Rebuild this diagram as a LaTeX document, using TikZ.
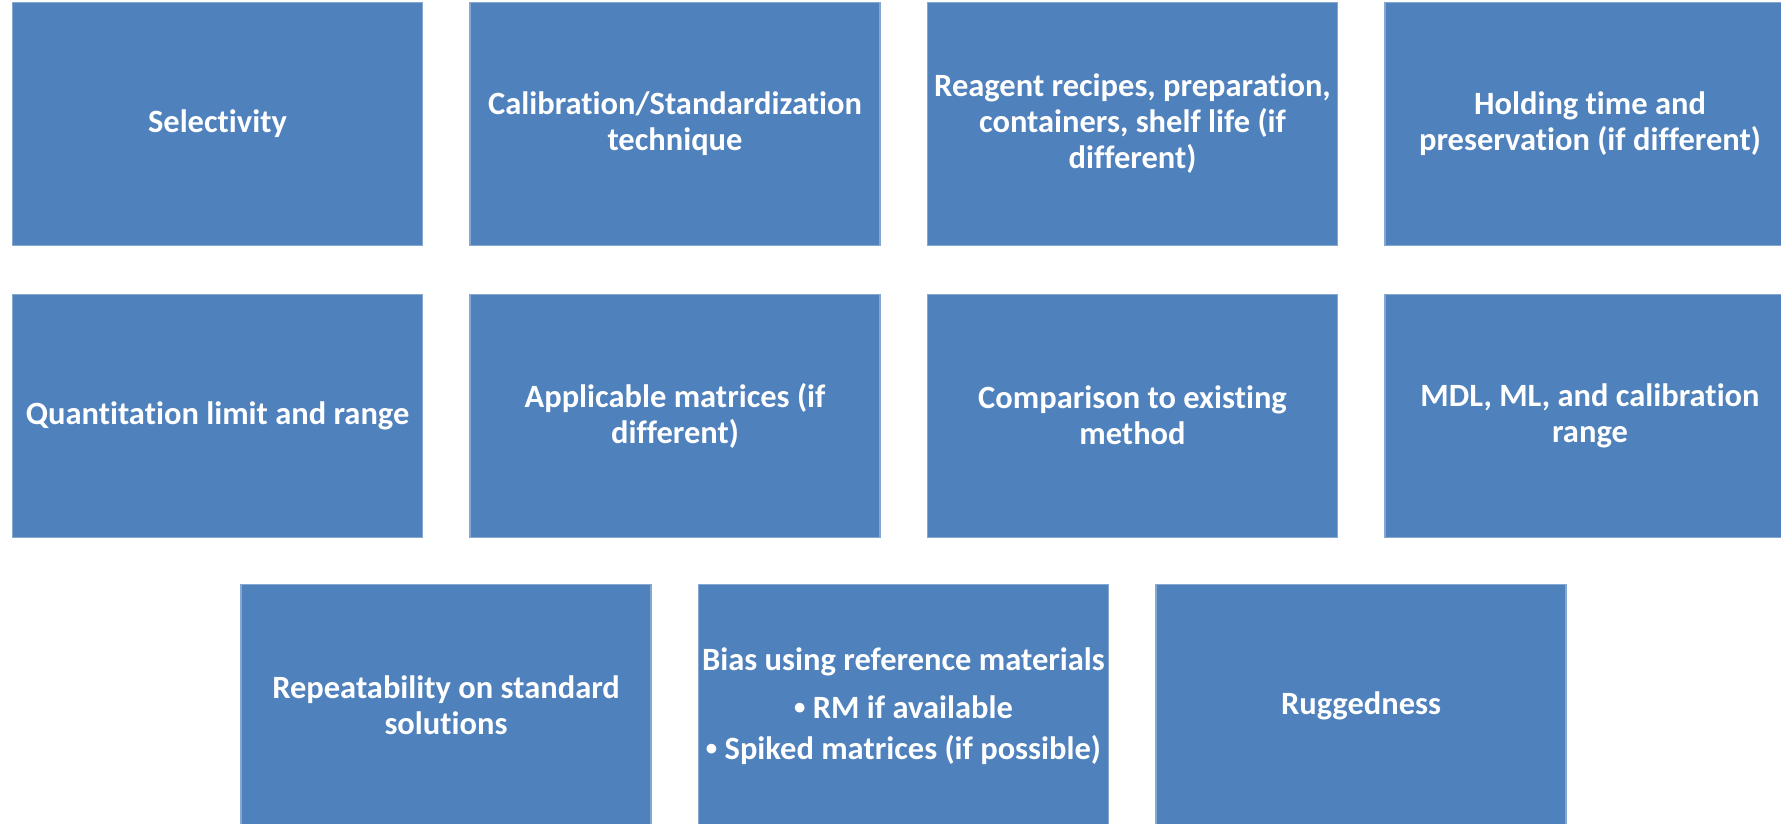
\documentclass[tikz,border=0pt]{standalone}
\usepackage{fontspec}
\usepackage{graphicx}
\setmainfont{Carlito}[Ligatures=NoCommon]
\usetikzlibrary{positioning}
\definecolor{boxblue}{HTML}{4F81BD}
\definecolor{boxedge}{HTML}{86A7D2}
\newcommand{\smallbul}{\raisebox{0.12em}{\scalebox{0.7}{\textbullet}}}

\begin{document}
\begin{tikzpicture}[x=1pt,y=-1pt,
                    node distance=47.5pt and 46.3pt,
                    every node/.style={rectangle,fill=boxblue,draw=boxedge,line width=1.2pt,
                                       minimum width=410pt,minimum height=243pt,inner sep=0pt,
                                       align=center,text=white,
                                       font=\bfseries\fontsize{32.5}{36}\selectfont}]
\clip (0,0) rectangle (1781,823);

% first row
\node (selectivity) at (217.5,124) {Selectivity};
\node[right=of selectivity] (calib) {Calibration/Standardization\\technique};
\node[right=of calib] (reagent) {Reagent recipes, preparation,\\containers, shelf life (if\\different)};
\node[right=of reagent] (holding) {Holding time and\\preservation (if different)};

% second row
\node[below=of selectivity] (quant) {Quantitation limit and range};
\node[right=of quant] (matrices) {Applicable matrices (if\\different)};
\node[right=of matrices] (compare) {Comparison to existing\\method};
\node[right=of compare] (mdl) {MDL, ML, and calibration\\range};

% third row
\node[below=45.8pt of quant,xshift=228.5pt] (repeat) {Repeatability on standard\\solutions};
\node[right=of repeat] (bias) {Bias using reference materials\\[12pt]\smallbul\ RM if available\\[5pt]\smallbul\ Spiked matrices (if possible)};
\node[right=of bias] (rugged) {Ruggedness};

\end{tikzpicture}
\end{document}
